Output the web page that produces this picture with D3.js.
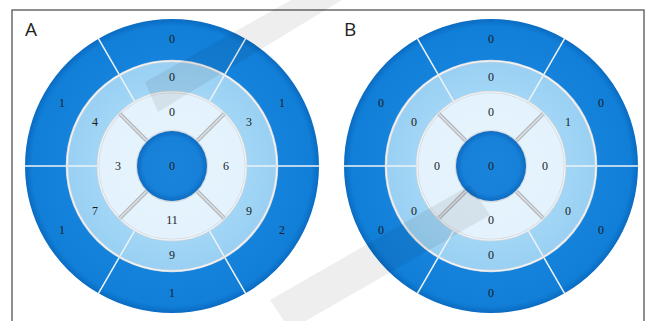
<!DOCTYPE html>
<html>
<head>
<meta charset="utf-8">
<script src="https://cdn.jsdelivr.net/npm/d3@7"></script>
<style>
  html, body { margin: 0; padding: 0; background: #fff; }
  svg { display: block; }
</style>
</head>
<body>
<svg id="chart" width="650" height="321"></svg>
<script>
// Bull's-eye (17-segment) values, segments listed clockwise starting at the top
const panelNames = ["A", "B"];
const basalA = [0, 1, 2, 1, 1, 1];
const midA = [0, 3, 9, 9, 7, 4];
const apicalA = [0, 6, 11, 3];
const apexA = [0];
const basalB = [0, 0, 0, 0, 0, 0];
const midB = [0, 1, 0, 0, 0, 0];
const apicalB = [0, 0, 0, 0];
const apexB = [0];

const panelData = [
  { name: panelNames[0], basal: basalA, mid: midA, apical: apicalA, apex: apexA },
  { name: panelNames[1], basal: basalB, mid: midB, apical: apicalB, apex: apexB }
];

const svg = d3.select("#chart");

// ring radii: apex, apical, mid, basal
const radius = d3.scaleOrdinal().domain(["apex", "apical", "mid", "basal"]).range([35, 74, 105, 147]);
const inner = { apical: 35, mid: 74, basal: 105 };
const panelX = d3.scalePoint().domain(panelNames).range([172, 491]);
const cy = 166;

const defs = svg.append("defs");
function radial(id, r, stops) {
  const g = defs.append("radialGradient").attr("id", id)
    .attr("gradientUnits", "userSpaceOnUse").attr("cx", 0).attr("cy", 0).attr("r", r);
  stops.forEach(s => g.append("stop").attr("offset", s[0]).attr("stop-color", s[1]));
}
radial("gBasal", 147, [[0, "#1784dc"], [0.72, "#1583dc"], [0.95, "#117fd8"], [1, "#0a6bc1"]]);
radial("gMid", 147, [[0, "#a2d6f6"], [0.5, "#a2d6f6"], [0.71, "#99d0f3"]]);
radial("gApical", 147, [[0, "#e6f4fd"], [0.5, "#e3f2fc"]]);
radial("gApex", 35, [[0, "#1a84db"], [0.82, "#1780d8"], [1, "#0d6cc2"]]);

// outer frame
svg.append("rect").attr("x", 12).attr("y", 10).attr("width", 632).attr("height", 330)
  .attr("fill", "none").attr("stroke", "#6b6b6b").attr("stroke-width", 1.5);

const six = d3.pie().value(() => 1).sort(null)
  .startAngle(-Math.PI / 6).endAngle(2 * Math.PI - Math.PI / 6);
const four = d3.pie().value(() => 1).sort(null)
  .startAngle(-Math.PI / 4).endAngle(2 * Math.PI - Math.PI / 4);

panelData.forEach(p => {
  const g = svg.append("g").attr("transform", `translate(${panelX(p.name)},${cy})`);

  const rings = [
    { key: "basal", vals: p.basal, pie: six, fill: "url(#gBasal)", labelR: 127 },
    { key: "mid", vals: p.mid, pie: six, fill: "url(#gMid)", labelR: 89 },
    { key: "apical", vals: p.apical, pie: four, fill: "url(#gApical)", labelR: 54 }
  ];
  rings.forEach(ring => {
    const arc = d3.arc().innerRadius(inner[ring.key]).outerRadius(radius(ring.key));
    g.selectAll(null).data(ring.pie(ring.vals)).enter().append("path")
      .attr("d", arc).attr("fill", ring.fill);
  });

  // separators between the basal / mid segments
  six(p.basal).forEach(a => {
    const t = a.startAngle;
    g.append("line")
      .attr("x1", Math.sin(t) * inner.mid).attr("y1", -Math.cos(t) * inner.mid)
      .attr("x2", Math.sin(t) * (radius("basal") + 1)).attr("y2", -Math.cos(t) * (radius("basal") + 1))
      .attr("stroke", "#eef3f7").attr("stroke-width", 1.5);
  });

  // ring borders
  [105, 74].forEach(r => {
    g.append("circle").attr("r", r).attr("fill", "none")
      .attr("stroke", "#d2d8dd").attr("stroke-width", 2.6);
    g.append("circle").attr("r", r).attr("fill", "none")
      .attr("stroke", "#f4f6f8").attr("stroke-width", 1.1);
  });

  // beveled dividers of the apical ring
  four(p.apical).forEach(a => {
    const t = a.startAngle;
    const x1 = Math.sin(t) * inner.apical, y1 = -Math.cos(t) * inner.apical;
    const x2 = Math.sin(t) * inner.mid, y2 = -Math.cos(t) * inner.mid;
    g.append("line").attr("x1", x1).attr("y1", y1).attr("x2", x2).attr("y2", y2)
      .attr("stroke", "#b4b9be").attr("stroke-width", 4);
    g.append("line").attr("x1", x1).attr("y1", y1).attr("x2", x2).attr("y2", y2)
      .attr("stroke", "#e0e3e6").attr("stroke-width", 1.4);
  });

  // apex
  g.append("circle").attr("r", radius("apex") + 1.2).attr("fill", "#d3d9de");
  g.append("circle").attr("r", radius("apex")).attr("fill", "url(#gApex)");

  // value labels
  const font = "Liberation Serif, serif";
  rings.forEach(ring => {
    ring.pie(ring.vals).forEach(a => {
      const m = (a.startAngle + a.endAngle) / 2;
      g.append("text")
        .attr("x", Math.sin(m) * ring.labelR).attr("y", -Math.cos(m) * ring.labelR)
        .attr("dy", "0.35em").attr("text-anchor", "middle")
        .attr("font-family", font).attr("font-size", 12)
        .attr("fill", "#1c1c1c").text(a.data);
    });
  });
  g.append("text").attr("dy", "0.35em").attr("text-anchor", "middle")
    .attr("font-family", font).attr("font-size", 12)
    .attr("fill", "#1c1c1c").text(p.apex[0]);

  // panel letter
  svg.append("text").attr("x", panelX(p.name) - 147).attr("y", 36)
    .attr("font-family", "Open Sans, DejaVu Sans, sans-serif").attr("font-size", 19)
    .attr("fill", "#222").text(p.name);
});

// faint grey publisher mark lying across both panels
const mark = svg.append("g").attr("fill", "#000").attr("fill-opacity", 0.065);
[
  [[145, 82], [300, -5], [350, -5], [158, 112]],
  [[270, 300], [470, 185], [490, 215], [290, 330]]
].forEach(pts => mark.append("path").attr("d", d3.line()(pts) + "Z"));
</script>
</body>
</html>
